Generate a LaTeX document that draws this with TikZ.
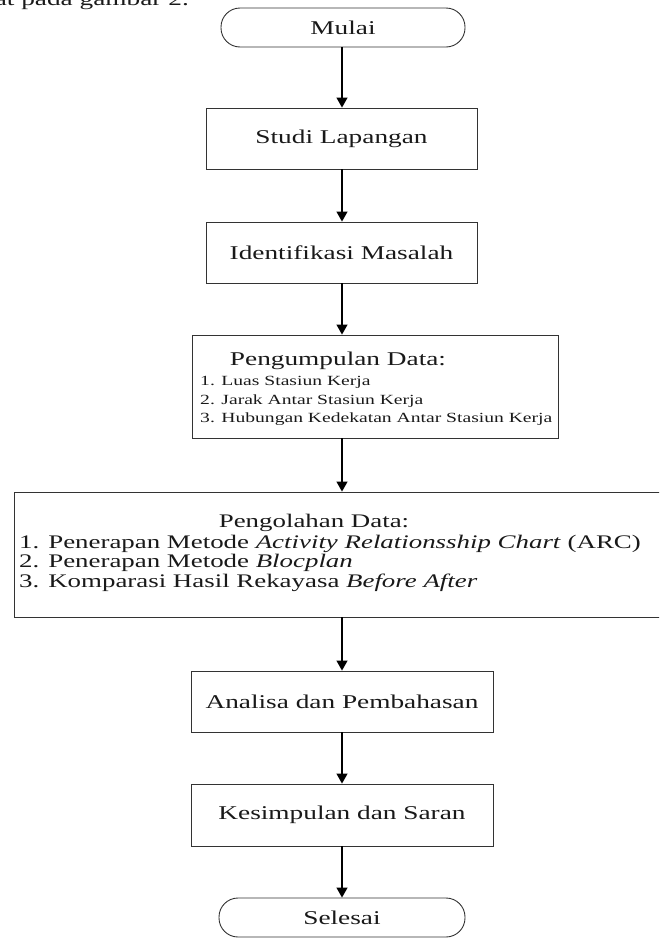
\documentclass[tikz,border=0pt]{standalone}
\usepackage{fontspec}
\setmainfont{Liberation Serif}[FakeStretch=1.4]
\usetikzlibrary{arrows.meta}
\newcommand\fsMain{\fontsize{19.5}{23}\selectfont}
\newcommand\fsHead{\fontsize{19.5}{23}\selectfont}
\newcommand\fsItem{\fontsize{14}{17}\selectfont}
\newcommand\fsOlah{\fontsize{19.2}{23}\selectfont}
\tikzset{
  box/.style={draw=black!80, line width=0.9pt, rectangle, inner sep=0pt, font=\fsMain, text=black!90},
  term/.style={box, rounded corners=19pt},
  arr/.style={-{Triangle[length=10pt,width=11pt]}, line width=1.3pt, draw=black},
  txt/.style={inner sep=0pt, text=black!90},
}
\begin{document}
\begin{tikzpicture}[x=1pt,y=-1pt]
\useasboundingbox (0,0) rectangle (659,940);
\clip (0,0) rectangle (659,940);
\coordinate (axis) at (342,0);
\node[txt, font=\fsMain, anchor=base east] (intro) at (189,5) {dapat dilihat pada gambar 2.};
\node[term, minimum width=244pt, minimum height=39pt] (mulai) at (343,27.5) {Mulai};
\node[box, minimum width=271pt, minimum height=61pt] (studi) at (341.5,138.5) {Studi Lapangan};
\node[box, minimum width=271pt, minimum height=61pt] (ident) at (341.5,252.5) {Identifikasi Masalah};
\node[box, minimum width=366pt, minimum height=103pt] (kumpul) at (375,386.5) {};
\node[txt, font=\fsHead, anchor=base] (kumpulH) at (338,365) {Pengumpulan Data:};
\node[txt, font=\fsItem, anchor=base west] (k1) at (200,385) {1. Luas Stasiun Kerja};
\node[txt, font=\fsItem, anchor=base west] (k2) at (200,404) {2. Jarak Antar Stasiun Kerja};
\node[txt, font=\fsItem, anchor=base west] (k3) at (200,422) {3. Hubungan Kedekatan Antar Stasiun Kerja};
\node[box, minimum width=651pt, minimum height=125pt] (olah) at (339.5,554.5) {};
\node[txt, font=\fsOlah, anchor=base] (olahH) at (314,527) {Pengolahan Data:};
\node[txt, font=\fsOlah, anchor=base west] (o1) at (19,548) {1. Penerapan Metode \textit{Activity Relationsship Chart} (ARC)};
\node[txt, font=\fsOlah, anchor=base west] (o2) at (19,567.5) {2. Penerapan Metode \textit{Blocplan}};
\node[txt, font=\fsOlah, anchor=base west] (o3) at (19,587) {3. Komparasi Hasil Rekayasa \textit{Before After}};
\node[box, minimum width=302pt, minimum height=61pt] (analisa) at (342,701.5) {Analisa dan Pembahasan};
\node[box, minimum width=302pt, minimum height=62pt] (simpul) at (342,815) {Kesimpulan dan Saran};
\node[term, minimum width=246pt, minimum height=39pt] (selesai) at (342,917.5) {Selesai};
\draw[arr] (axis |- mulai.south) -- (axis |- studi.north);
\draw[arr] (axis |- studi.south) -- (axis |- ident.north);
\draw[arr] (axis |- ident.south) -- (axis |- kumpul.north);
\draw[arr] (axis |- kumpul.south) -- (axis |- olah.north);
\draw[arr] (axis |- olah.south) -- (analisa.north);
\draw[arr] (analisa.south) -- (simpul.north);
\draw[arr] (simpul.south) -- (selesai.north);
\end{tikzpicture}
\end{document}
